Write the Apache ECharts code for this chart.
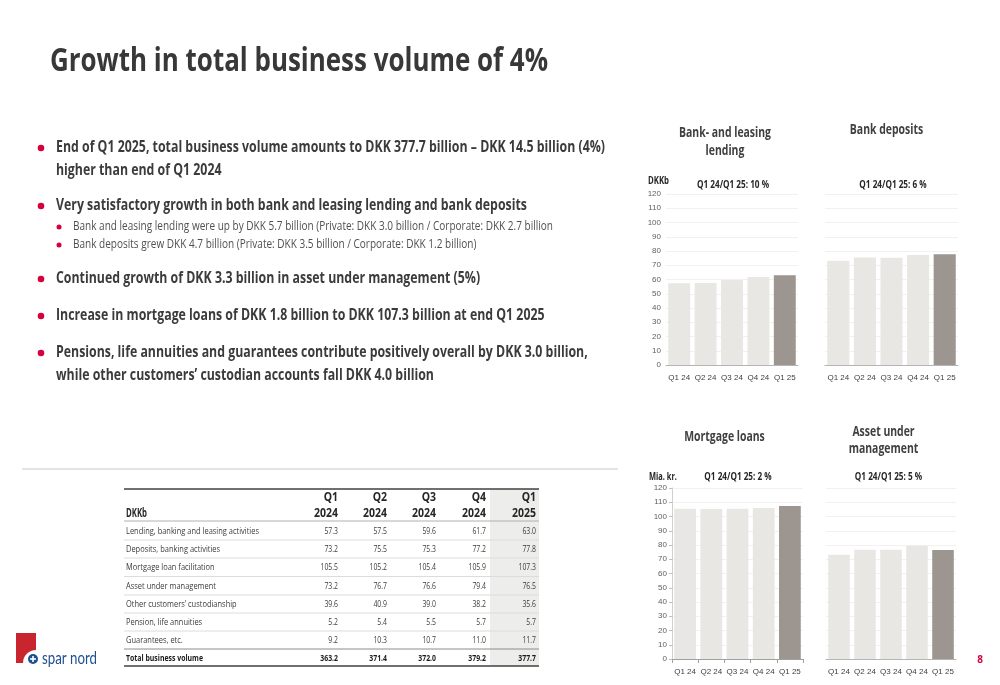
<!DOCTYPE html>
<html>
<head>
<meta charset="utf-8">
<script src="https://cdn.jsdelivr.net/npm/echarts@6/dist/echarts.min.js"></script>
<style>
html,body{margin:0;padding:0;background:#fff;}
#chart{width:1000px;height:685px;}
</style>
</head>
<body>
<div id="chart"></div>
<script>
// ---------- DATA ----------
const categories = ['Q1 24', 'Q2 24', 'Q3 24', 'Q4 24', 'Q1 25'];
const lendingValues = [57.3, 57.5, 59.6, 61.7, 63.0];
const depositValues = [73.2, 75.5, 75.3, 77.2, 77.8];
const mortgageValues = [105.5, 105.2, 105.4, 105.9, 107.3];
const aumValues = [73.2, 76.7, 76.6, 79.4, 76.5];
const yTicks = { min: 0, max: 120, interval: 10 };

const tableRowLabels = [
  'Lending, banking and leasing activities',
  'Deposits, banking activities',
  'Mortgage loan facilitation',
  'Asset under management',
  'Other customers\u2019 custodianship',
  'Pension, life annuities',
  'Guarantees, etc.',
  'Total business volume'
];
const tableHeaderTop = ['Q1', 'Q2', 'Q3', 'Q4', 'Q1'];
const tableHeaderBottom = ['2024', '2024', '2024', '2024', '2025'];
const colQ1_2024 = ['57.3', '73.2', '105.5', '73.2', '39.6', '5.2', '9.2', '363.2'];
const colQ2_2024 = ['57.5', '75.5', '105.2', '76.7', '40.9', '5.4', '10.3', '371.4'];
const colQ3_2024 = ['59.6', '75.3', '105.4', '76.6', '39.0', '5.5', '10.7', '372.0'];
const colQ4_2024 = ['61.7', '77.2', '105.9', '79.4', '38.2', '5.7', '11.0', '379.2'];
const colQ1_2025 = ['63.0', '77.8', '107.3', '76.5', '35.6', '5.7', '11.7', '377.7'];

const titleText = 'Growth in total business volume of 4%';
const bullets = [
  ['End of Q1 2025, total business volume amounts to DKK 377.7 billion \u2013 DKK 14.5 billion (4%)', 'higher than end of Q1 2024'],
  ['Very satisfactory growth in both bank and leasing lending and bank deposits'],
  ['Continued growth of DKK 3.3 billion in asset under management (5%)'],
  ['Increase in mortgage loans of DKK 1.8 billion to DKK 107.3 billion at end Q1 2025'],
  ['Pensions, life annuities and guarantees contribute positively overall by DKK 3.0 billion,', 'while other customers\u2019 custodian accounts fall DKK 4.0 billion']
];
const subBullets = [
  'Bank and leasing lending were up by DKK 5.7 billion (Private: DKK 3.0 billion / Corporate: DKK 2.7 billion',
  'Bank deposits grew DKK 4.7 billion (Private: DKK 3.5 billion / Corporate: DKK 1.2 billion)'
];
const chartTitles = [['Bank- and leasing', 'lending'], ['Bank deposits'], ['Mortgage loans'], ['Asset under', 'management']];
const chartGrowth = ['Q1 24/Q1 25: 10 %', 'Q1 24/Q1 25: 6 %', 'Q1 24/Q1 25: 2 %', 'Q1 24/Q1 25: 5 %'];
const unitLabels = ['DKKb', 'Mia. kr.'];

// ---------- STYLE / LAYOUT ----------
const FAM = "'Open Sans'";
const AXF = "'Liberation Sans'";
const TXT = '#3b3b3b';
const RED = '#d7003f';
const LIGHT = '#e9e7e3';
const DARK = '#9d958f';

const cv = document.createElement('canvas').getContext('2d');
function measure(t, w, s, f) { cv.font = w + ' ' + s + 'px ' + (f || FAM); return cv.measureText(t).width; }
function fit(t, w, s, target, f) { return target / measure(t, w, s, f); }

const G = [];
function txt(t, x, y, o) {
  o = o || {};
  const align = o.align || 'left';
  G.push({
    type: 'text', x: x, y: y, scaleX: o.sx || 1, z: 10,
    style: {
      text: t, fill: o.color || TXT, fontFamily: o.family || FAM,
      fontSize: o.size, fontWeight: o.weight || 'normal',
      align: align, textAlign: align, verticalAlign: 'middle', textVerticalAlign: 'middle'
    }
  });
}
function line(x1, y1, x2, y2, c, w) {
  G.push({ type: 'line', z: 5, shape: { x1: x1, y1: y1, x2: x2, y2: y2 }, style: { stroke: c, lineWidth: w } });
}
function dot(x, y, r) {
  G.push({ type: 'circle', z: 5, shape: { cx: x, cy: y, r: r }, style: { fill: RED } });
}

// Title
txt(titleText, 50, 62, { size: 32, weight: 'bold', sx: fit(titleText, 'bold', 32, 498), color: '#383838' });

// Bullets
const bSize = 15.5, bScale = fit(bullets[0][0], 'bold', bSize, 549);
const bulletY = [[148, 171], [206], [279], [316], [353, 376]];
bullets.forEach((b, i) => {
  dot(41, bulletY[i][0], 3.3);
  b.forEach((l, j) => txt(l, 56, bulletY[i][j], { size: bSize, weight: 'bold', sx: bScale }));
});
const sSize = 12, sScale = fit(subBullets[0], 'normal', sSize, 480);
const subY = [227, 245];
subBullets.forEach((l, i) => {
  dot(59, subY[i], 2.5);
  txt(l, 73, subY[i], { size: sSize, sx: sScale, color: '#505050' });
});

// Divider
line(22, 469, 618, 469, '#c8c8c8', 1);

// Chart titles
const ctSize = 15, ctScale = fit(chartTitles[0][0], 'bold', ctSize, 92);
const ctPos = [[725, [133, 151]], [886.5, [130]], [724.5, [437]], [883.5, [432, 449]]];
chartTitles.forEach((t, i) => t.forEach((l, j) =>
  txt(l, ctPos[i][0], ctPos[i][1][j], { size: ctSize, weight: 'bold', sx: ctScale, align: 'center', color: '#404040' })));
const gSize = 10.5, gScale = fit(chartGrowth[0], 'bold', gSize, 72);
const gPos = [[733, 185], [893, 185], [738, 477], [888.5, 477]];
chartGrowth.forEach((t, i) => txt(t, gPos[i][0], gPos[i][1], { size: gSize, weight: 'bold', sx: gScale, align: 'center', color: '#262626' }));
txt(unitLabels[0], 648, 181, { size: 11, weight: 'bold', sx: fit(unitLabels[0], 'bold', 11, 21), color: '#262626' });
txt(unitLabels[1], 649, 477, { size: 11, weight: 'bold', sx: fit(unitLabels[1], 'bold', 11, 28), color: '#262626' });

// Table
G.push({ type: 'rect', z: 1, shape: { x: 490, y: 489, width: 49, height: 177 }, style: { fill: '#ededeb' } });
const colRight = [338, 387, 436, 486, 536];
const rowY = [531, 549, 567, 586, 604, 622, 640, 658];
const tSize = 9.5, tScale = fit(tableRowLabels[0], 'normal', tSize, 133);
const hSize = 12.5, hScale = fit('2024', 'bold', hSize, 24);
txt('DKKb', 126, 513, { size: hSize, weight: 'bold', sx: fit('DKKb', 'bold', hSize, 21), color: '#262626' });
tableHeaderTop.forEach((h, k) => {
  txt(h, colRight[k], 497, { size: hSize, weight: 'bold', sx: hScale, align: 'right', color: '#262626' });
  txt(tableHeaderBottom[k], colRight[k], 513, { size: hSize, weight: 'bold', sx: hScale, align: 'right', color: '#262626' });
});
const cols = [colQ1_2024, colQ2_2024, colQ3_2024, colQ4_2024, colQ1_2025];
tableRowLabels.forEach((l, r) => {
  const last = r === tableRowLabels.length - 1;
  const w = last ? 'bold' : 'normal';
  const c = last ? '#1a1a1a' : '#3b3b3b';
  txt(l, 126, rowY[r], { size: tSize, weight: w, sx: last ? fit(l, 'bold', tSize, 77) : tScale, color: c });
  cols.forEach((col, k) => txt(col[r], colRight[k], rowY[r], { size: tSize, weight: w, sx: tScale * 0.92, align: 'right', color: c }));
});
line(124, 489, 539, 489, '#404040', 1.5);
line(124, 521, 539, 521, '#b0b0b0', 1);
[540, 558, 576.5, 595, 613, 631].forEach(y => line(124, y, 539, y, '#dcdcdc', 1));
line(124, 649, 539, 649, '#8c8c8c', 1);
line(124, 666, 539, 666, '#404040', 1.5);

// Page number
txt('8', 980, 660, { size: 10, weight: 'bold', color: RED, align: 'center' });

// Logo
G.push({ type: 'rect', z: 5, shape: { x: 16, y: 633, width: 20, height: 30 }, style: { fill: '#c9252f' } });
G.push({ type: 'sector', z: 6, shape: { cx: 36, cy: 663, r0: 0, r: 13, startAngle: Math.PI, endAngle: Math.PI * 1.5 }, style: { fill: '#ffffff' } });
G.push({ type: 'circle', z: 7, shape: { cx: 33, cy: 659, r: 5 }, style: { fill: '#1d4f91' } });
G.push({ type: 'rect', z: 8, shape: { x: 32.2, y: 656, width: 1.6, height: 6 }, style: { fill: '#fff' } });
G.push({ type: 'rect', z: 8, shape: { x: 30, y: 658.2, width: 6, height: 1.6 }, style: { fill: '#fff' } });
txt('spar nord', 42, 659, { size: 17, sx: fit('spar nord', 'normal', 17, 55, "'Lato'"), color: '#1d4f91', family: "'Lato'" });

// ---------- CHARTS ----------
const grids = [
  { left: 666, top: 194, width: 132, height: 171 },
  { left: 825, top: 194, width: 133, height: 171 },
  { left: 672, top: 488, width: 131, height: 171 },
  { left: 826, top: 488, width: 130, height: 171 }
];
const seriesData = [lendingValues, depositValues, mortgageValues, aumValues];
const showY = [true, false, true, false];

const option = {
  animation: false,
  backgroundColor: '#ffffff',
  grid: grids.map(g => Object.assign({ containLabel: false }, g)),
  xAxis: grids.map((g, i) => ({
    type: 'category', gridIndex: i, data: categories,
    axisLine: { show: true, lineStyle: { color: i === 2 ? '#a0a0a0' : '#b5b5b5', width: 1 } },
    axisTick: { show: i === 2, length: 4, lineStyle: { color: '#a0a0a0' } },
    axisLabel: { interval: 0, hideOverlap: false, color: '#404040', fontSize: 8, fontFamily: AXF, margin: 9 }
  })),
  yAxis: grids.map((g, i) => ({
    type: 'value', gridIndex: i, min: yTicks.min, max: yTicks.max, interval: yTicks.interval,
    axisLine: { show: i === 2, lineStyle: { color: '#d0d0d0' } },
    axisTick: { show: i === 2, length: 3, lineStyle: { color: '#c0c0c0' } },
    axisLabel: { show: showY[i], color: '#606060', fontSize: 8, fontFamily: AXF, margin: 5 },
    splitLine: { show: true, lineStyle: { color: '#f1f1f1', width: 1 } }
  })),
  series: seriesData.map((d, i) => ({
    type: 'bar', xAxisIndex: i, yAxisIndex: i, barCategoryGap: '17%',
    data: d.map((v, k) => ({ value: v, itemStyle: { color: k === d.length - 1 ? DARK : LIGHT } })),
    silent: true
  })),
  graphic: { elements: G }
};

const chart = echarts.init(document.getElementById('chart'), null, { renderer: 'canvas' });
chart.setOption(option);
</script>
</body>
</html>
